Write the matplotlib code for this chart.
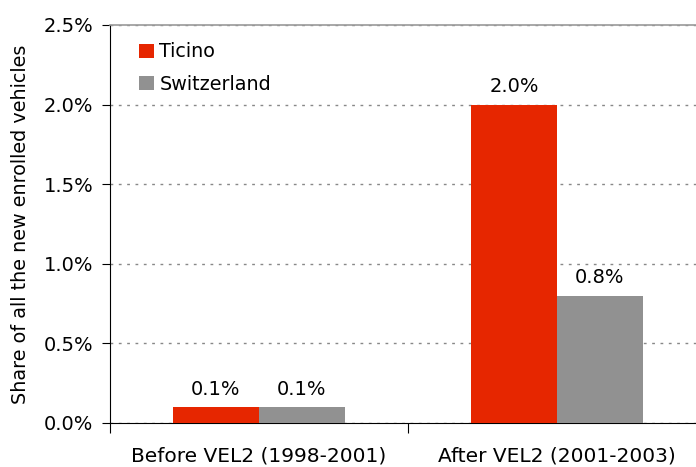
import matplotlib.pyplot as plt
import numpy as np

plt.rc('font', family='DejaVu Sans')

categories = ['Before VEL2 (1998-2001)', 'After VEL2 (2001-2003)']
ticino = [0.1, 2.0]
switzerland = [0.1, 0.8]
series = ['Ticino', 'Switzerland']
colors = ['#E62600', '#919191']

fig = plt.figure(figsize=(6.96, 4.67), dpi=100)
ax = fig.add_axes([110/696, 1 - 423/467, 596/696, 398/467])

x = np.arange(len(categories))
w = 86/298
b1 = ax.bar(x - w/2, ticino, w, color=colors[0], label=series[0], zorder=3)
b2 = ax.bar(x + w/2, switzerland, w, color=colors[1], label=series[1], zorder=3)

for bars in (b1, b2):
    for r in bars:
        ax.annotate('%.1f%%' % r.get_height(), (r.get_x() + r.get_width()/2, r.get_height()),
                    xytext=(0, 6), textcoords='offset points', ha='center', va='bottom', fontsize=14)

ax.set_xlim(-0.5, 1.5)
ax.set_ylim(0, 2.5)
ax.set_yticks(np.arange(0, 2.51, 0.5))
ax.set_yticklabels(['%.1f%%' % v for v in np.arange(0, 2.51, 0.5)])
ax.set_xticks([-0.5, 0.5, 1.5])
ax.set_xticklabels([])
ax.set_xticks(x, minor=True)
ax.set_xticklabels(categories, minor=True)
ax.tick_params(axis='x', which='major', length=7, direction='out')
ax.tick_params(axis='x', which='minor', length=0, pad=17, labelsize=14.5)
ax.tick_params(axis='y', length=6, direction='out', labelsize=14, pad=6)

ax.grid(axis='y', color='#888888', linestyle=(0, (2, 4)), linewidth=1, zorder=0)
ax.spines['right'].set_visible(False)
ax.spines['top'].set_color('#999999')
ax.spines['top'].set_linewidth(1.2)

ax.set_ylabel('Share of all the new enrolled vehicles', fontsize=13.8, labelpad=10)
ax.legend(loc='upper left', frameon=False, fontsize=13.8, handlelength=0.75, handleheight=0.75,
          handletextpad=0.3, labelspacing=0.7, bbox_to_anchor=(0.02, 1.0))

plt.savefig('out.png', dpi=100)
